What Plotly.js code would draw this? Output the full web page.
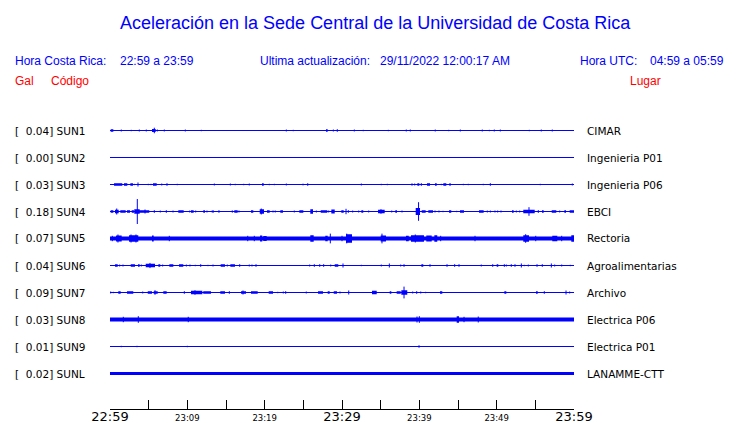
<!DOCTYPE html>
<html><head><meta charset="utf-8">
<script src="https://cdn.plot.ly/plotly-3.0.1.min.js"></script>
<style>html,body{margin:0;padding:0;background:#fff;}#chart{width:740px;height:423px;}</style>
</head><body><div id="chart"></div>
<script>
// ---- data ----
const stations = ['SUN1','SUN2','SUN3','SUN4','SUN5','SUN6','SUN7','SUN8','SUN9','SUNL'];
const peaks    = ['0.04','0.00','0.03','0.18','0.07','0.04','0.09','0.03','0.01','0.02'];
const places   = ['CIMAR','Ingenieria P01','Ingenieria P06','EBCI','Rectoria','Agroalimentarias','Archivo','Electrica P06','Electrica P01','LANAMME-CTT'];
// background noise half-amplitude (gal) per station
const background = [0,0,0,0,0.029,0,0,0.029,0,0.022];
// minutes after 22:59 for ticks
const tickMinutes = [0,5,10,15,20,25,30,35,40,45,50,55,60];
const tickLabels  = ['22:59','','23:09','','23:19','','23:29','','23:39','','23:49','','23:59'];
const bigTicks    = ['22:59','23:29','23:59'];
// events: [start minute, end minute, half amplitude (gal)] ; start==end is a single spike
const SUN1 = [[0.09,0.43,0.019],[1.46,1.46,0.014],[2.75,2.75,0.010],[3.79,3.79,0.014],[4.69,4.69,0.014],[5.43,5.91,0.022],[5.73,5.73,0.040],[6.12,6.12,0.014],[7.02,7.02,0.014],[9.74,9.74,0.014],[11.81,11.81,0.010],[22.80,22.80,0.014],[23.70,23.70,0.010],[27.93,28.15,0.019],[28.88,28.88,0.014],[29.39,29.39,0.019],[31.59,31.59,0.014],[32.75,32.75,0.010],[35.99,35.99,0.010],[38.31,38.31,0.014],[38.83,38.83,0.014],[42.06,42.06,0.014],[43.80,43.80,0.010],[45.30,45.30,0.014],[48.14,48.14,0.014],[49.05,49.05,0.010],[49.69,49.69,0.014],[50.47,50.47,0.014],[54.22,54.22,0.010],[55.77,55.77,0.014],[57.19,57.19,0.014]];
const SUN2 = [];
const SUN3 = [[0.52,1.59,0.019],[1.81,2.24,0.019],[2.63,2.97,0.019],[3.14,3.14,0.010],[3.62,3.62,0.029],[4.95,4.95,0.010],[5.30,5.30,0.010],[5.56,6.04,0.019],[6.69,6.69,0.014],[7.37,7.37,0.019],[8.70,8.70,0.010],[13.49,13.49,0.014],[15.56,15.56,0.014],[16.20,16.20,0.010],[17.29,17.29,0.010],[18.01,18.01,0.014],[19.66,19.88,0.019],[20.60,20.60,0.010],[21.25,21.25,0.010],[22.80,22.80,0.014],[24.87,25.05,0.010],[25.57,25.57,0.019],[32.50,32.50,0.014],[35.08,35.08,0.010],[35.86,35.86,0.010],[38.96,39.14,0.014],[39.40,39.40,0.014],[39.74,40.00,0.019],[40.26,40.26,0.019],[40.99,41.38,0.019],[42.03,42.25,0.019],[42.84,42.84,0.010],[43.10,43.49,0.019],[43.88,44.06,0.019],[45.69,45.69,0.010],[46.33,46.33,0.010],[48.27,48.27,0.010],[49.18,49.18,0.019],[55.64,55.64,0.010],[59.78,59.78,0.014]];
const SUN4 = [[0.09,0.43,0.019],[0.65,1.12,0.024],[0.87,0.87,0.043],[1.33,2.03,0.019],[2.20,2.59,0.019],[2.81,3.10,0.019],[3.14,3.84,0.033],[3.53,3.53,0.180],[3.84,5.08,0.019],[4.53,4.53,0.029],[5.73,5.73,0.019],[6.50,6.50,0.014],[7.28,7.28,0.019],[8.15,8.15,0.014],[8.83,9.53,0.019],[10.31,10.31,0.014],[10.47,10.82,0.019],[11.08,11.08,0.014],[12.06,12.28,0.019],[12.54,12.54,0.014],[13.15,13.45,0.014],[14.09,14.09,0.019],[15.74,15.91,0.014],[16.07,16.51,0.019],[16.68,16.68,0.014],[18.23,18.53,0.019],[19.36,19.91,0.033],[19.56,19.56,0.043],[20.30,20.65,0.019],[21.08,21.08,0.014],[21.37,21.37,0.014],[22.02,22.37,0.019],[23.83,23.83,0.014],[24.48,25.00,0.019],[25.90,26.25,0.033],[26.68,26.68,0.014],[27.25,28.10,0.019],[28.28,28.28,0.014],[28.62,29.06,0.029],[29.91,30.22,0.019],[30.52,30.52,0.039],[30.82,30.82,0.019],[31.38,31.38,0.014],[32.16,32.16,0.014],[32.50,32.75,0.019],[33.45,33.45,0.014],[34.66,35.52,0.024],[35.04,35.04,0.033],[36.43,36.43,0.014],[36.89,37.11,0.019],[37.76,37.76,0.014],[39.53,40.09,0.050],[39.90,39.90,0.134],[40.31,40.82,0.019],[41.16,41.77,0.019],[42.03,42.03,0.014],[42.54,42.54,0.014],[43.06,43.06,0.010],[43.84,44.13,0.019],[44.83,44.83,0.010],[45.26,45.78,0.019],[47.72,48.32,0.019],[48.79,48.79,0.014],[49.18,49.18,0.014],[49.78,49.78,0.014],[50.13,50.13,0.014],[50.56,50.56,0.014],[51.98,52.20,0.019],[52.54,52.54,0.014],[52.98,52.98,0.014],[53.44,54.92,0.024],[54.18,54.18,0.062],[55.31,55.47,0.019],[55.86,56.08,0.019],[57.12,57.71,0.019],[58.15,58.15,0.014],[58.75,58.97,0.019],[59.44,60.00,0.019]];
const SUN5 = [[0.30,0.30,0.039],[0.78,1.51,0.043],[1.03,1.03,0.058],[2.46,3.66,0.048],[2.72,2.72,0.058],[3.36,3.36,0.058],[5.43,5.65,0.043],[7.67,7.67,0.039],[17.81,17.81,0.039],[18.66,18.66,0.039],[19.40,19.69,0.043],[19.82,20.26,0.036],[25.90,26.34,0.048],[27.84,28.15,0.039],[28.49,28.49,0.070],[30.00,30.00,0.039],[30.52,31.29,0.062],[30.61,30.61,0.070],[35.00,35.69,0.043],[35.17,35.17,0.070],[38.28,38.63,0.039],[38.92,40.60,0.048],[39.48,39.48,0.058],[40.90,41.60,0.043],[41.94,42.32,0.048],[42.76,42.76,0.039],[47.20,47.20,0.039],[53.44,54.18,0.048],[53.75,53.75,0.062],[55.05,55.05,0.039],[57.19,57.84,0.039],[58.41,58.41,0.039],[59.65,60.00,0.048]];
const SUN6 = [[0.65,1.00,0.019],[1.25,1.25,0.014],[1.68,1.68,0.014],[2.68,3.23,0.019],[3.62,3.84,0.019],[4.05,4.05,0.014],[4.62,5.82,0.024],[5.17,5.17,0.037],[6.25,6.50,0.019],[6.81,6.81,0.014],[7.67,8.19,0.019],[8.92,9.48,0.019],[9.87,9.87,0.014],[10.34,10.34,0.014],[11.03,11.03,0.010],[11.73,11.73,0.019],[12.67,12.67,0.010],[13.32,13.32,0.014],[14.31,14.87,0.019],[15.17,15.17,0.014],[15.56,16.16,0.019],[16.77,16.77,0.019],[18.01,18.01,0.014],[18.36,18.36,0.014],[18.88,18.88,0.019],[25.82,25.82,0.014],[26.42,26.42,0.019],[27.12,27.12,0.019],[27.63,27.63,0.019],[28.54,28.54,0.014],[29.06,29.52,0.019],[30.13,30.13,0.029],[32.50,32.50,0.010],[35.08,35.08,0.014],[36.12,36.12,0.029],[37.59,37.59,0.014],[38.02,38.02,0.019],[40.26,40.51,0.019],[41.38,41.38,0.019],[43.58,43.58,0.019],[44.57,44.57,0.019],[45.13,45.13,0.019],[48.01,48.01,0.014],[49.49,49.49,0.019],[50.00,50.21,0.019],[50.99,50.99,0.019],[51.25,51.25,0.014],[51.89,51.89,0.019],[52.37,52.37,0.019],[53.19,53.19,0.029],[53.57,53.57,0.010],[54.09,54.09,0.014],[55.22,55.22,0.019],[55.90,55.90,0.019],[57.07,57.07,0.029],[57.50,57.50,0.014],[58.41,58.41,0.014],[59.52,59.52,0.010]];
const SUN7 = [[0.09,0.09,0.014],[0.43,0.43,0.010],[1.07,1.38,0.019],[2.20,3.01,0.019],[4.23,4.23,0.014],[4.88,5.43,0.019],[5.65,6.17,0.019],[5.82,5.82,0.033],[6.89,7.33,0.019],[9.61,9.61,0.019],[10.47,11.94,0.024],[10.99,10.99,0.033],[12.06,13.06,0.019],[14.26,14.87,0.019],[15.43,15.43,0.019],[16.94,17.59,0.019],[17.20,17.20,0.029],[18.23,19.10,0.019],[20.52,21.08,0.019],[21.69,21.69,0.010],[22.41,22.41,0.014],[22.72,22.72,0.019],[25.38,25.38,0.014],[26.90,27.54,0.019],[28.15,28.41,0.019],[28.93,29.35,0.019],[29.74,29.74,0.014],[30.87,30.87,0.029],[33.88,34.49,0.024],[36.17,36.38,0.019],[37.07,37.59,0.019],[37.67,38.44,0.033],[38.02,38.02,0.085],[39.14,39.14,0.014],[39.66,39.66,0.019],[40.18,40.18,0.014],[40.82,40.82,0.010],[42.67,42.97,0.019],[50.99,51.25,0.019],[55.09,55.31,0.019],[56.16,56.16,0.019],[58.97,58.97,0.029],[59.44,59.44,0.014]];
const SUN8 = [[1.72,1.72,0.039],[3.66,3.66,0.048],[10.12,10.12,0.039],[39.70,39.70,0.043],[40.00,40.00,0.048],[44.83,45.13,0.048],[45.78,45.78,0.039],[47.62,47.62,0.043]];
const SUN9 = [[1.46,1.46,0.010],[3.49,3.49,0.010],[10.00,10.00,0.010],[39.96,39.96,0.018]];
const SUNL = [];
const events = [SUN1,SUN2,SUN3,SUN4,SUN5,SUN6,SUN7,SUN8,SUN9,SUNL];

// ---- layout geometry ----
const W = 740, H = 423;
const PL = 110, PR = 574, PT = 100, PB = 409;
const BASE0 = 130.5, ROWGAP = 27, GAL_PER_PX = 0.0144;
const ANN_PAD = 2;
const yTop = (BASE0 - PT) * GAL_PER_PX;
const yBot = -(PB - BASE0) * GAL_PER_PX;
const offset = i => -i * ROWGAP * GAL_PER_PX;
const BLUE = '#0000ff';
const px2x = px => (px - PL) / (PR - PL);
const px2y = py => (PB - py) / (PB - PT);

const traces = [];
const baseX = [], baseY = [];
const blkX = [], blkY = [];
const spkX = [], spkY = [];
stations.forEach((s, i) => {
  const o = offset(i);
  baseX.push(tickMinutes[0], tickMinutes[tickMinutes.length-1], null);
  baseY.push(o, o, null);
  const list = events[i].slice();
  if (background[i] > 0) list.unshift([tickMinutes[0], tickMinutes[tickMinutes.length-1], background[i]]);
  list.forEach(([a, b, amp]) => {
    if (b > a) {
      blkX.push(a, b, b, a, a, null);
      blkY.push(o-amp, o-amp, o+amp, o+amp, o-amp, null);
    } else {
      spkX.push(a, a, null);
      spkY.push(o-amp, o+amp, null);
    }
  });
});
traces.push({x: blkX, y: blkY, type:'scatter', mode:'lines', fill:'toself', fillcolor:BLUE, line:{width:0, color:BLUE}, hoverinfo:'skip', showlegend:false});
traces.push({x: baseX, y: baseY, type:'scatter', mode:'lines', line:{width:1, color:BLUE}, hoverinfo:'skip', showlegend:false});
traces.push({x: spkX, y: spkY, type:'scatter', mode:'lines', line:{width:1, color:BLUE}, hoverinfo:'skip', showlegend:false});

const lblFont = {family:'DejaVu Sans', size:10.5, color:'#000'};
const hdrFont = (c, s) => ({family:'Liberation Sans, Arial', size:s, color:c});
const ann = [];
stations.forEach((s, i) => {
  const yy = px2y(BASE0 + i*ROWGAP);
  ann.push({xref:'paper', yref:'paper', x:px2x(15 - ANN_PAD), y:yy, xanchor:'left', yanchor:'middle', showarrow:false, text:'[\u00a0\u00a0' + peaks[i] + '] ' + s, font:lblFont});
  ann.push({xref:'paper', yref:'paper', x:px2x(587 - ANN_PAD), y:yy, xanchor:'left', yanchor:'middle', showarrow:false, text:places[i], font:lblFont});
});
const hdr = [
  ['Aceleración en la Sede Central de la Universidad de Costa Rica', 375.5, 23, 'center', BLUE, 18],
  ['Hora Costa Rica:', 15, 61, 'left', BLUE, 12],
  ['22:59 a 23:59', 120, 61, 'left', BLUE, 12],
  ['Ultima actualización:', 260, 61, 'left', BLUE, 12],
  ['29/11/2022 12:00:17 AM', 380, 61, 'left', BLUE, 12],
  ['Hora UTC:', 580, 61, 'left', BLUE, 12],
  ['04:59 a 05:59', 650, 61, 'left', BLUE, 12],
  ['Gal', 15, 81, 'left', '#ff0000', 12],
  ['Código', 51, 81, 'left', '#ff0000', 12],
  ['Lugar', 630, 81, 'left', '#ff0000', 12]
];
hdr.forEach(([t, x, y, xa, c, s]) => ann.push({xref:'paper', yref:'paper', x:px2x(xa === 'left' ? x - ANN_PAD : x), y:px2y(y), xanchor:xa, yanchor:'middle', showarrow:false, text:t, font:hdrFont(c, s)}));

const tickText = tickLabels.map(t => t === '' ? '' : (bigTicks.includes(t) ? t : '<span style="font-size:8.5px">' + t + '</span>'));

const layout = {
  width: W, height: H,
  margin: {l: PL, r: W - PR, t: PT, b: H - PB, pad: 0},
  paper_bgcolor: '#fff', plot_bgcolor: '#fff',
  showlegend: false,
  xaxis: {range:[tickMinutes[0], tickMinutes[tickMinutes.length-1]], tickmode:'array', tickvals:tickMinutes, ticktext:tickText,
          ticks:'inside', ticklen:9, tickwidth:1, tickcolor:'#000', showline:true, linecolor:'#000', linewidth:1,
          ticklabelstandoff:-5,
          showgrid:false, zeroline:false, tickfont:{family:'DejaVu Sans', size:13, color:'#000'}, fixedrange:true},
  yaxis: {range:[yBot, yTop], visible:false, fixedrange:true},
  annotations: ann
};
Plotly.newPlot('chart', traces, layout, {displayModeBar:false, staticPlot:true});
</script></body></html>
